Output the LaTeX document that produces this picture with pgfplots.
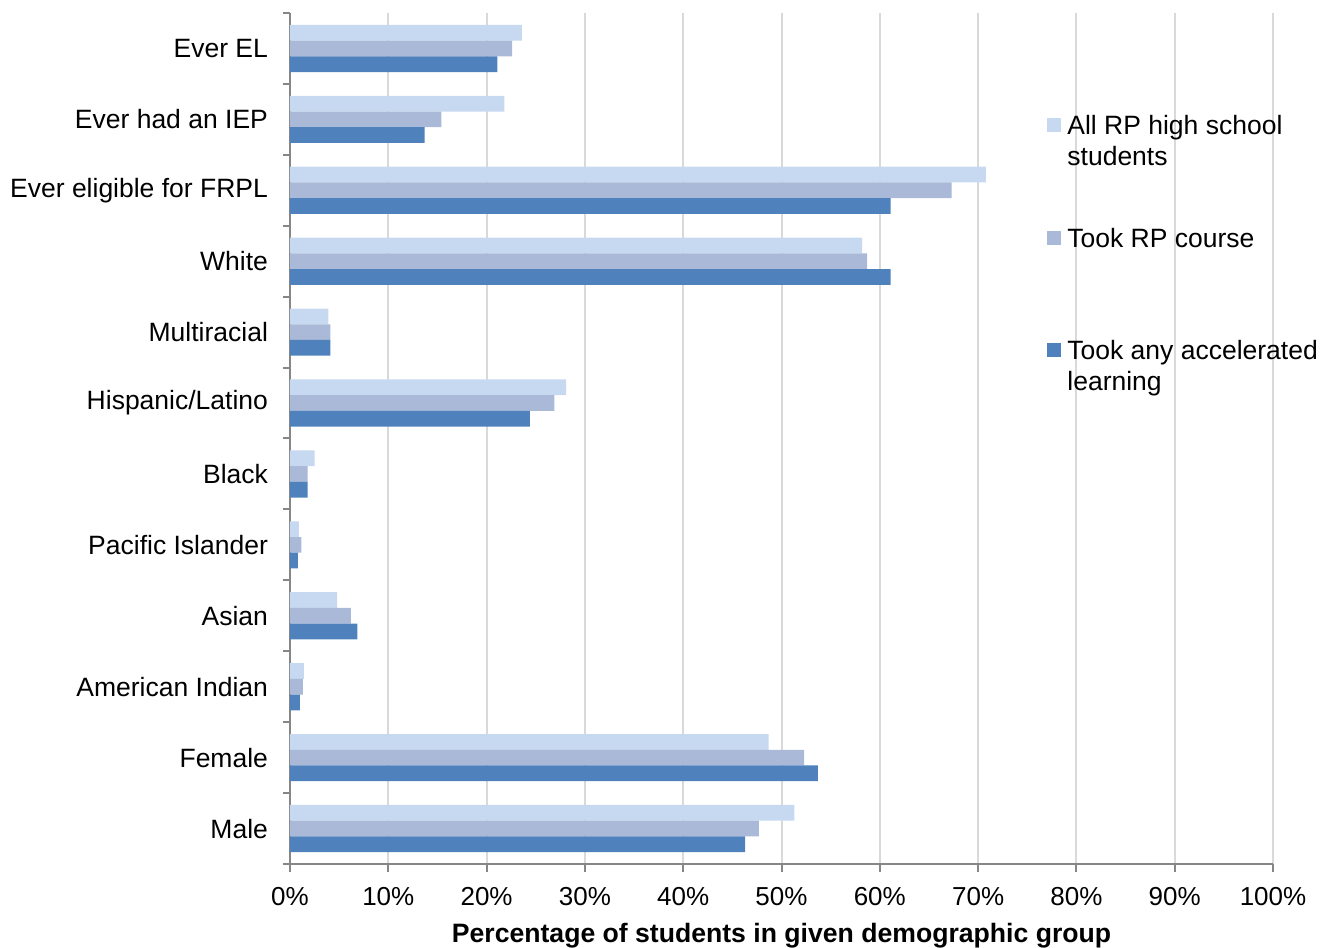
\documentclass[border=0pt]{standalone}
\usepackage{pgfplots}
\usepackage{pgfplotstable}
\pgfplotsset{compat=1.18}
\usepackage{fontspec}
\setmainfont{Liberation Sans}

\definecolor{allrp}{RGB}{198,217,240}
\definecolor{tookrp}{RGB}{169,185,215}
\definecolor{accel}{RGB}{79,129,189}
\definecolor{axisgray}{RGB}{134,134,134}
\definecolor{gridgray}{RGB}{217,217,217}

% Share of students (%) in each demographic group
% pos: 0 = Male (bottom) ... 11 = Ever EL (top)
\pgfplotstableread{
pos all   rp    accel
0   51.3  47.7  46.3
1   48.7  52.3  53.7
2   1.4   1.3   1.0
3   4.8   6.2   6.85
4   0.9   1.15  0.8
5   2.5   1.8   1.8
6   28.1  26.9  24.4
7   3.9   4.1   4.1
8   58.2  58.7  61.1
9   70.8  67.3  61.1
10  21.8  15.4  13.7
11  23.6  22.6  21.1
}\demog

\begin{document}
\begin{tikzpicture}
\begin{axis}[
  at={(0,0)}, anchor=south west,
  scale only axis, width=491.5pt, height=425.5pt,
  xbar, bar width=0.2214,
  xmin=0, xmax=100, ymin=-0.5, ymax=11.5,
  axis x line*=bottom, axis y line*=left,
  axis line style={axisgray, line width=1pt},
  tick align=outside,
  xtick={0,10,...,100},
  xticklabels={0\%,10\%,20\%,30\%,40\%,50\%,60\%,70\%,80\%,90\%,100\%},
  major tick length=4pt,
  xtick style={draw=axisgray, line width=1pt},
  ytick={0,...,11},
  yticklabels={Male,Female,American Indian,Asian,Pacific Islander,Black,Hispanic/Latino,Multiracial,White,Ever eligible for FRPL,Ever had an IEP,Ever EL},
  major y tick style={draw=none},
  minor ytick={-0.5,0.5,...,11.5},
  minor tick length=3.5pt,
  minor y tick style={draw=axisgray, line width=1pt},
  xmajorgrids,
  major grid style={draw=gridgray, line width=1pt},
  xticklabel style={font=\fontsize{13}{15}\selectfont, yshift=-4pt},
  yticklabel style={font=\fontsize{13.25}{15.5}\selectfont, xshift=-3.5pt},
  xlabel={Percentage of students in given demographic group},
  xlabel style={font=\fontsize{13.3}{15.5}\selectfont\bfseries, yshift=-2pt},
  legend style={
    at={(0.7701,0.8801)}, anchor=north west,
    draw=none, fill=none, inner sep=0pt,
    row sep=0pt, column sep=3pt,
    cells={anchor=north west},
    nodes={inner sep=0pt, text height=9.5pt, text depth=46.5pt},
    font=\fontsize{13.25}{15.5}\selectfont,
  },
  legend image code/.code={
    \fill[#1,draw=none] (0pt,-1.5pt) rectangle (7pt,-8.5pt);
  },
]
\addplot[fill=allrp, draw=none, bar shift=0.2214] table[x=all, y=pos] {\demog};
\addplot[fill=tookrp, draw=none, bar shift=0] table[x=rp, y=pos] {\demog};
\addplot[fill=accel, draw=none, bar shift=-0.2214] table[x=accel, y=pos] {\demog};
\legend{
  {\parbox[t]{135pt}{\raggedright All RP high school\\students}},
  {\parbox[t]{135pt}{\raggedright Took RP course}},
  {\parbox[t]{135pt}{\raggedright Took any accelerated\\learning}}
}
\end{axis}
\pgfresetboundingbox
\useasboundingbox (-145pt,-41.5pt) rectangle (517.5pt,432pt);
\end{tikzpicture}
\end{document}
